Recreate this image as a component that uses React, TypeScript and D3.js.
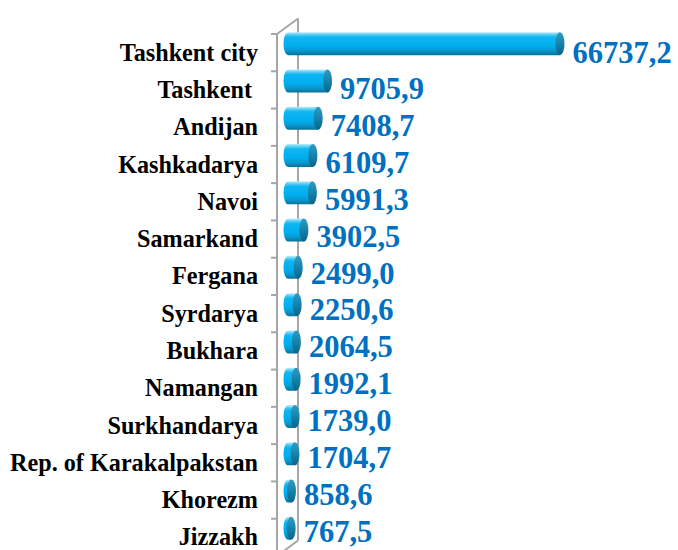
import React from "react";
import * as d3 from "d3";

const categories = [
  "Tashkent city",
  "Tashkent ",
  "Andijan",
  "Kashkadarya",
  "Navoi",
  "Samarkand",
  "Fergana",
  "Syrdarya",
  "Bukhara",
  "Namangan",
  "Surkhandarya",
  "Rep. of Karakalpakstan",
  "Khorezm",
  "Jizzakh",
];

const values = [
  66737.2, 9705.9, 7408.7, 6109.7, 5991.3, 3902.5, 2499.0, 2250.6, 2064.5,
  1992.1, 1739.0, 1704.7, 858.6, 767.5,
];

const W = 678;
const H = 550;

export default function App() {
  const y = d3.scaleBand<string>().domain(categories).range([34, 556]).padding(0);
  const x = d3.scaleLinear().domain([0, 70000]).range([288, 573.3]);
  const yVal = d3.scalePoint<string>().domain(categories).range([62.5, 541.5]);

  const frontX = 277;
  const depthX = 21;
  const depthY = -15.5;
  const yTop = y.range()[0];
  const yBot = y.range()[1];
  const rx = 4.5;
  const ry = 11.5;
  const barShift = -9;

  const ticks = categories.map((c) => y(c) as number).concat([yBot]);

  const fmt = (v: number) => v.toFixed(1).replace(".", ",");

  return (
    <div style={{ position: "absolute", left: 0, top: 0 }}>
      <svg width={W} height={H} style={{ display: "block", background: "#fff" }}>
        <defs>
          <linearGradient id="body" x1="0" y1="0" x2="0" y2="1">
            <stop offset="0" stopColor="#c4ecfa" />
            <stop offset="0.1" stopColor="#5fd0f7" />
            <stop offset="0.22" stopColor="#0fb6f2" />
            <stop offset="0.6" stopColor="#00aeee" />
            <stop offset="0.82" stopColor="#0996cc" />
            <stop offset="1" stopColor="#0b6f96" />
          </linearGradient>
          <linearGradient id="cap" x1="0" y1="0" x2="0" y2="1">
            <stop offset="0" stopColor="#2f9cc4" />
            <stop offset="0.5" stopColor="#1583ad" />
            <stop offset="1" stopColor="#0b6488" />
          </linearGradient>
        </defs>

        {/* 3D wall */}
        <g stroke="#a6a6a6" strokeWidth={2} fill="none">
          <line x1={frontX} y1={yTop} x2={frontX} y2={yBot} />
          <line x1={frontX + depthX} y1={yTop + depthY} x2={frontX + depthX} y2={yBot + depthY} />
          <line x1={frontX} y1={yTop} x2={frontX + depthX} y2={yTop + depthY} />
          <line x1={frontX} y1={yBot} x2={frontX + depthX} y2={yBot + depthY} />
          {ticks.map((t, i) => (
            <line key={i} x1={frontX - 6} y1={t} x2={frontX} y2={t} />
          ))}
        </g>

        {/* bars */}
        {categories.map((c, i) => {
          const cy = (y(c) as number) + y.bandwidth() / 2 + barShift;
          const x0 = x(0);
          const x1 = x(values[i]);
          const d = `M${x0},${cy - ry} A${rx},${ry} 0 0 0 ${x0},${cy + ry} L${x1},${cy + ry} L${x1},${cy - ry} Z`;
          return (
            <g key={c}>
              <path d={d} fill="url(#body)" />
              <ellipse cx={x1} cy={cy} rx={rx} ry={ry} fill="url(#cap)" />
            </g>
          );
        })}

        {/* category labels */}
        {categories.map((c) => (
          <text
            key={c}
            x={258}
            y={(y(c) as number) + y.bandwidth() / 2 + 8}
            textAnchor="end"
            fontFamily="'Liberation Serif', 'Times New Roman', serif"
            fontWeight="bold"
            fontSize={24.2}
            fill="#000"
            style={{ whiteSpace: "pre" }}
          >
            {c}
          </text>
        ))}

        {/* value labels */}
        {categories.map((c, i) => (
          <text
            key={c}
            x={x(values[i]) + rx + 8}
            y={yVal(c) as number}
            textAnchor="start"
            fontFamily="'Liberation Serif', 'Times New Roman', serif"
            fontWeight="bold"
            fontSize={30.5}
            fill="#0070c0"
          >
            {fmt(values[i])}
          </text>
        ))}
      </svg>
    </div>
  );
}
